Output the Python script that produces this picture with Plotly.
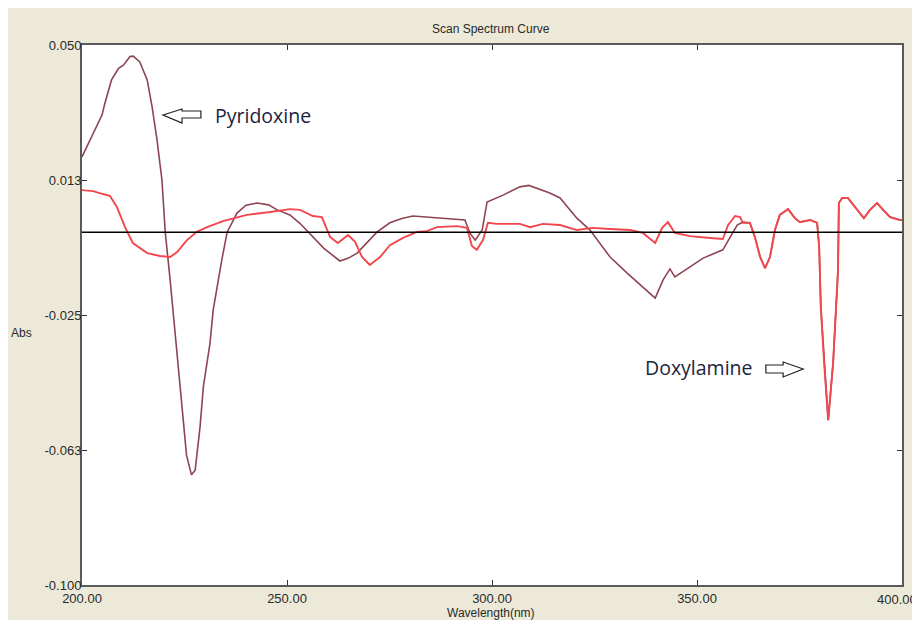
import plotly.graph_objects as go

# ---------------- data ----------------
pyridoxine_wl = [200, 202, 204.9, 205.6, 207.2, 208.9, 210.1, 211.7, 212.5, 214.1, 215.9, 217.1,
                 218.3, 219.5, 220.3, 221.5, 222.3, 223.9, 225.5, 226.7, 227.6, 228.8, 229.6, 231.2,
                 232.0, 234.1, 235.4, 237.8, 240.0, 242.7, 245.5, 247.6, 250.7, 253.2, 256.0, 259.0,
                 262.9, 265.0, 267.1, 269.5, 272.0, 275.1, 278.0, 280.7, 284.0, 287.3, 291.0, 293.4,
                 294.6, 295.9, 297.6, 298.8, 302.7, 306.8, 309.0, 311.7, 314.1, 316.6, 318.7, 320.7,
                 323.9, 328.8, 332.9, 336.8, 339.8, 341.7, 343.4, 344.6, 348.3, 351.5, 356.3, 358.0,
                 359.8, 361.2, 362.9, 364.1, 365.4, 366.6, 367.8, 369.0, 370.2, 372.2, 373.9, 375.1,
                 377.6, 379.3, 379.8, 380.2, 381.0, 382.0, 383.2, 383.9, 384.4, 384.6, 385.4, 386.8,
                 388.5, 390.7, 392.2, 393.9, 395.4, 397.1, 399.5, 400.0]
pyridoxine_abs = [0.0189, 0.0236, 0.0306, 0.0339, 0.0403, 0.0435, 0.0444, 0.0468, 0.0469, 0.0453, 0.0403, 0.0328,
                  0.0236, 0.0125, -0.0020, -0.0153, -0.0255, -0.0449, -0.0640, -0.0694, -0.0681, -0.0560, -0.0449, -0.0330,
                  -0.0236, -0.0097, -0.0020, 0.0033, 0.0055, 0.0061, 0.0056, 0.0042, 0.0028, 0.0004, -0.0030, -0.0065,
                  -0.0100, -0.0092, -0.0078, -0.0050, -0.0019, 0.0006, 0.0018, 0.0025, 0.0022, 0.0019, 0.0017, 0.0014,
                  -0.0022, -0.0042, -0.0014, 0.0064, 0.0083, 0.0106, 0.0110, 0.0100, 0.0089, 0.0075, 0.0045, 0.0019,
                  -0.0014, -0.0089, -0.0133, -0.0172, -0.0203, -0.0153, -0.0122, -0.0144, -0.0117, -0.0092, -0.0069, -0.0036,
                  0.0000, 0.0008, 0.0006, -0.0033, -0.0089, -0.0120, -0.0089, -0.0014, 0.0028, 0.0044, 0.0019, 0.0008,
                  0.0014, 0.0006, -0.0061, -0.0228, -0.0383, -0.0542, -0.0383, -0.0244, -0.0125, 0.0061, 0.0075, 0.0075,
                  0.0050, 0.0019, 0.0042, 0.0061, 0.0042, 0.0022, 0.0014, 0.0014]

doxylamine_wl = [200, 202.7, 205.1, 206.8, 208.5, 210.5, 212.4, 215.9, 219.0, 221.5, 223.2, 225.6,
                 228.0, 230.5, 234.4, 240.2, 245.9, 250.7, 253.2, 256.3, 258.5, 260.5, 262.4, 264.9,
                 266.6, 268.3, 270.2, 272.7, 275.1, 278.3, 281.7, 284.1, 286.6, 291.5, 293.9, 295.1,
                 296.3, 297.8, 299.0, 301.2, 306.8, 309.3, 312.4, 316.6, 320.7, 324.6, 328.8, 333.7,
                 336.8, 339.8, 341.5, 342.9, 344.6, 348.3, 353.2, 356.3, 357.6, 359.3, 360.5, 361.2,
                 362.9, 364.1, 365.4, 366.6, 367.8, 369.0, 370.2, 372.2, 373.9, 375.1, 377.6, 379.3,
                 379.8, 380.2, 381.0, 382.0, 383.2, 383.9, 384.4, 384.6, 385.4, 386.8, 388.5, 390.7,
                 392.2, 393.9, 395.4, 397.1, 399.5, 400.0]
doxylamine_abs = [0.0097, 0.0094, 0.0086, 0.0081, 0.0050, -0.0006, -0.0050, -0.0078, -0.0086, -0.0089, -0.0075, -0.0042,
                  -0.0019, -0.0006, 0.0011, 0.0028, 0.0036, 0.0044, 0.0042, 0.0025, 0.0022, -0.0033, -0.0050, -0.0028,
                  -0.0047, -0.0089, -0.0111, -0.0089, -0.0056, -0.0036, -0.0019, -0.0017, -0.0006, -0.0003, -0.0008, -0.0058,
                  -0.0069, -0.0042, 0.0006, 0.0003, 0.0003, -0.0006, 0.0003, 0.0000, -0.0014, -0.0008, -0.0011, -0.0014,
                  -0.0022, -0.0050, -0.0008, 0.0008, -0.0022, -0.0031, -0.0036, -0.0039, 0.0000, 0.0025, 0.0022, 0.0006,
                  0.0006, -0.0033, -0.0089, -0.0120, -0.0089, -0.0014, 0.0028, 0.0044, 0.0019, 0.0008, 0.0014, 0.0006,
                  -0.0061, -0.0228, -0.0383, -0.0542, -0.0383, -0.0244, -0.0125, 0.0061, 0.0075, 0.0075, 0.0050, 0.0019,
                  0.0042, 0.0061, 0.0042, 0.0022, 0.0014, 0.0014]

x_tick_vals = [200, 250, 300, 350, 400]
x_tick_text = ["200.00", "250.00", "300.00", "350.00", "400.00"]
y_tick_vals = [0.05, 0.0125, -0.025, -0.0625, -0.1]
y_tick_text = ["0.050", "0.013", "-0.025", "-0.063", "-0.100"]
baseline_abs = -0.002

# ---------------- figure ----------------
fig = go.Figure()

fig.add_trace(go.Scatter(x=pyridoxine_wl, y=pyridoxine_abs, mode="lines",
                         line=dict(color="#8e4452", width=1.6), name="Pyridoxine",
                         hoverinfo="x+y"))
fig.add_trace(go.Scatter(x=doxylamine_wl, y=doxylamine_abs, mode="lines",
                         line=dict(color="#f2474d", width=1.9), name="Doxylamine",
                         hoverinfo="x+y"))

tickfont = dict(family="Liberation Sans, Arial, sans-serif", size=13, color="#2a2a2a")
smallfont = dict(family="Liberation Sans, Arial, sans-serif", size=12, color="#2a2a2a")
labelfont = dict(family="Open Sans, Noto Sans, sans-serif", size=19.5, color="#1c2340")

# the last x label sits at the window's right edge; it is drawn as an annotation
# pinned to the edge so it does not widen the page
shown_x_text = x_tick_text[:-1] + [""]

fig.update_xaxes(range=[200, 400], tickvals=x_tick_vals, ticktext=shown_x_text,
                 ticks="inside", ticklen=5, tickwidth=1, tickcolor="#333333",
                 showline=True, linecolor="#5a5a5a", linewidth=2, mirror="allticks",
                 showgrid=False, zeroline=False, tickfont=tickfont)
fig.update_yaxes(range=[-0.1, 0.05], tickvals=y_tick_vals, ticktext=y_tick_text,
                 ticks="inside", ticklen=5, tickwidth=1, tickcolor="#333333",
                 showline=True, linecolor="#5a5a5a", linewidth=2, mirror="allticks",
                 showgrid=False, zeroline=False, tickfont=tickfont,
                 ticklabelstandoff=-4)

shapes = [
    # baseline
    dict(type="line", xref="x", yref="y", x0=200, x1=400, y0=baseline_abs, y1=baseline_abs,
         line=dict(color="#000000", width=1.5)),
    # hollow arrow pointing left (Pyridoxine)
    dict(type="path", xref="x", yref="y",
         path="M 219.76 0.03056 L 224.4 0.03222 L 224.4 0.03167 L 229.0 0.03167 "
              "L 229.0 0.02972 L 224.4 0.02972 L 224.4 0.02833 Z",
         line=dict(color="#222222", width=1.2), fillcolor="rgba(255,255,255,0)"),
    # hollow arrow pointing right (Doxylamine)
    dict(type="path", xref="x", yref="y",
         path="M 375.9 -0.0400 L 371.0 -0.03806 L 371.0 -0.03889 L 366.8 -0.03889 "
              "L 366.8 -0.04111 L 371.0 -0.04111 L 371.0 -0.04222 Z",
         line=dict(color="#222222", width=1.2), fillcolor="rgba(255,255,255,0)"),
]

annotations = [
    dict(text="Scan Spectrum Curve", xref="paper", yref="paper", x=0.499, y=1.0296,
         showarrow=False, xanchor="center", yanchor="middle", font=smallfont),
    dict(text="Abs", xref="paper", yref="paper", x=-0.0732, y=0.4667,
         showarrow=False, xanchor="center", yanchor="middle", font=smallfont),
    dict(text="Wavelength(nm)", xref="paper", yref="paper", x=0.499, y=-0.052,
         showarrow=False, xanchor="center", yanchor="middle", font=smallfont),
    dict(text=x_tick_text[-1], xref="paper", yref="paper", x=1.0205, y=-0.0265,
         showarrow=False, xanchor="right", yanchor="middle", xshift=0, font=tickfont),
    dict(text="Pyridoxine", xref="x", yref="y", x=231.9, y=0.0305,
         showarrow=False, xanchor="left", yanchor="middle", font=labelfont),
    dict(text="Doxylamine", xref="x", yref="y", x=336.8, y=-0.0396,
         showarrow=False, xanchor="left", yanchor="middle", font=labelfont),
]

# the page body adds an 8px offset; size the figure so it fits the 920x620 window
fig.update_layout(width=912, height=612,
                  margin=dict(l=74, r=18, t=37, b=35),
                  paper_bgcolor="#ece9d8", plot_bgcolor="#ffffff",
                  showlegend=False, shapes=shapes, annotations=annotations)

fig.write_html("out.html")
